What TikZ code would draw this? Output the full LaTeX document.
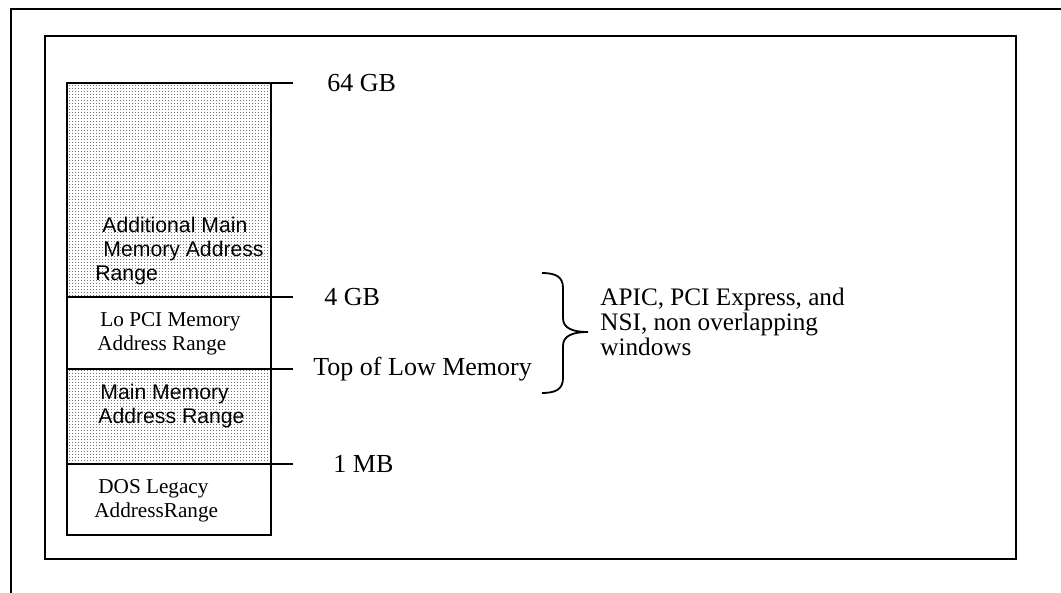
\documentclass[tikz,border=0pt]{standalone}
\usepackage{fontspec}
\setmainfont{Liberation Serif}
\newfontfamily\arialfont{Liberation Sans}
\usepackage{tikz}
\usetikzlibrary{patterns}

\pgfdeclarepatternformonly{finedots}{\pgfpointorigin}{\pgfqpoint{1.5pt}{1.5pt}}{\pgfqpoint{1.5pt}{1.5pt}}{%
  \pgfpathcircle{\pgfqpoint{0.4pt}{0.4pt}}{0.32pt}\pgfusepath{fill}}

\begin{document}
\begin{tikzpicture}[x=0.5pt,y=-0.5pt,
  membox/.style={draw,line width=0.8pt,minimum width=102pt,anchor=north west,inner sep=0pt,outer sep=0pt},
  dotted fill/.style={pattern=finedots,pattern color=black!75},
  boxtext/.style={anchor=west,align=left,inner sep=0pt,font=\fontsize{10.6}{12}\selectfont},
  sanstext/.style={boxtext,font=\fontsize{10.6}{12}\selectfont\arialfont},
  addr/.style={anchor=west,inner sep=0pt,font=\fontsize{13}{13}\selectfont},
  tick/.style={line width=0.6pt}]
\useasboundingbox (0,0) rectangle (1061,593);
% frames
\draw[line width=1.2pt] (1061,9) -- (11,9) -- (11,593);
\draw[line width=1.2pt] (45,36) rectangle (1016,559);
% memory map
\node[membox,dotted fill,minimum height=107pt] (addl) at (67,83) {};
\node[membox,minimum height=36pt] (lopci) at (addl.south west) {};
\node[membox,dotted fill,minimum height=47.5pt] (mainmem) at (lopci.south west) {};
\node[membox,minimum height=35.5pt] (dos) at (mainmem.south west) {};
\node[sanstext] (addltxt) at (95,251) {\hspace*{3.5pt}Additional Main\\\hspace*{4pt}Memory Address\\Range};
\node[boxtext] (lopcitxt) at (97,334) {\hspace*{1.5pt}Lo PCI Memory\\Address Range};
\node[sanstext] (maintxt) at (98,406) {\hspace*{1pt}Main Memory\\Address Range};
\node[boxtext] (dostxt) at (94,501) {\hspace*{2pt}DOS Legacy\\AddressRange};
% boundaries
\coordinate (t64) at (293,83);
\coordinate (t4) at (293,297);
\coordinate (ttolm) at (293,369);
\coordinate (t1) at (293,464);
\draw[tick] (addl.north east) -- (t64);
\draw[tick] (lopci.north east) -- (t4);
\draw[tick] (mainmem.north east) -- (ttolm);
\draw[tick] (dos.north east) -- (t1);
\node[addr] (gb64) at (327,83) {64 GB};
\node[addr] (gb4) at (324,297) {4 GB};
\node[addr] (tolm) at (313,369) {Top of Low Memory};
\node[addr] (mb1) at (333,464) {1 MB};
% brace
\draw[line width=0.9pt] (542,273) .. controls (556,273) and (563,277) .. (563,288) -- (563,318)
  .. controls (563,328) and (572,332) .. (588,332)
  .. controls (572,332) and (563,336) .. (563,346) -- (563,378)
  .. controls (563,389) and (556,393) .. (542,393);
\node[addr,align=left,font=\fontsize{12.6}{12.6}\selectfont] (windows) at (600,322) {APIC, PCI Express, and\\NSI, non overlapping\\windows};
\end{tikzpicture}
\end{document}
